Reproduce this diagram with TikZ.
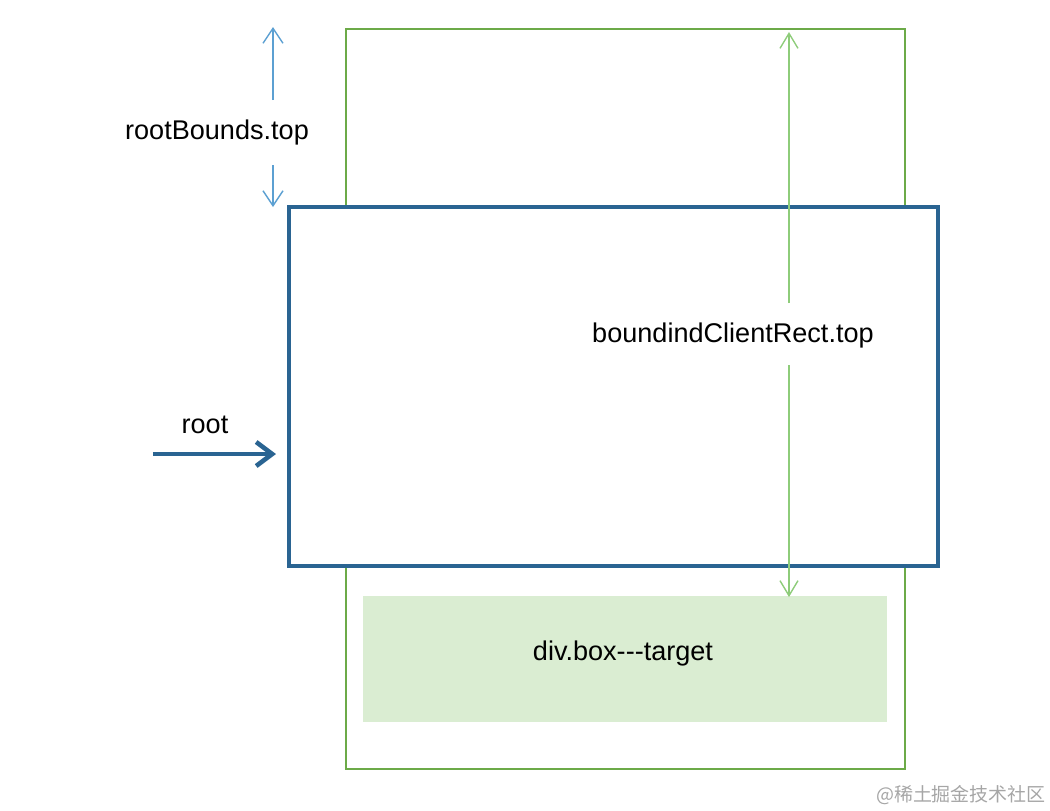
\documentclass[tikz,border=0pt]{standalone}
\usepackage{fontspec}
\setmainfont{Liberation Sans}
\newfontfamily\cjk{Noto Sans CJK SC}
\usetikzlibrary{arrows.meta}
\definecolor{rootblue}{RGB}{42,100,146}
\definecolor{skyblue}{RGB}{92,160,210}
\definecolor{boxgreen}{RGB}{108,170,72}
\definecolor{palegreen}{RGB}{142,204,122}
\definecolor{fillgreen}{RGB}{218,237,210}

\begin{document}
\begin{tikzpicture}[x=0.01cm, y=-0.01cm, font=\fontsize{7.7}{9}\selectfont]
\useasboundingbox (0,0) rectangle (1050,811);

% Target element (outer box)
\draw[boxgreen, line width=0.6pt] (346,29) rectangle (905,769);
\node[fill=fillgreen, minimum width=5.24cm, minimum height=1.26cm] (target) at (625,659) {};
\node (tlabel) at (623,653) {div.box{-}{-}{-}target};

% Root box
\draw[rootblue, fill=white, line width=1.4pt] (289,207) rectangle (938,566);

% Labels
\node (rbt) at (217,132) {rootBounds.top};
\node (bcr) at (733,335) {boundindClientRect.top};
\node (rlabel) at (205,425) {root};
\node[font=\cjk\fontsize{5.4}{6}\selectfont, text=black!35] (mark) at (961,795) {@稀土掘金技术社区};

% Arrow end points
\coordinate (rb up) at (273,100);
\coordinate (rb top) at (273,27);
\coordinate (rb dn) at (273,165);
\coordinate (rb bot) at (273,207);
\coordinate (bc up) at (789,303);
\coordinate (bc top) at (789,32);
\coordinate (bc dn) at (789,365);
\coordinate (bc bot) at (789,597);
\coordinate (r from) at (153,454);
\coordinate (r to) at (276,454);

% Arrows
\draw[skyblue, line width=0.4pt, -{Straight Barb[length=1.5mm, width=2mm]}] (rb up) -- (rb top);
\draw[skyblue, line width=0.4pt, -{Straight Barb[length=1.5mm, width=2mm]}] (rb dn) -- (rb bot);
\draw[palegreen, line width=0.4pt, -{Straight Barb[length=1.5mm, width=1.8mm]}] (bc up) -- (bc top);
\draw[palegreen, line width=0.4pt, -{Straight Barb[length=1.5mm, width=1.8mm]}] (bc dn) -- (bc bot);
\draw[rootblue, line width=1.3pt, -{Straight Barb[length=1.6mm, width=2.4mm]}] (r from) -- (r to);

\end{tikzpicture}
\end{document}
